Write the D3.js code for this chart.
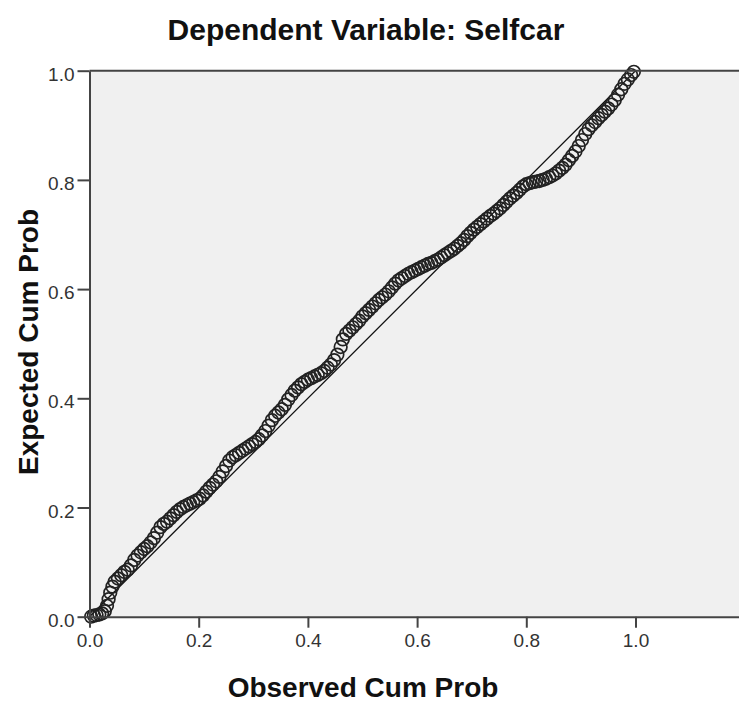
<!DOCTYPE html>
<html>
<head>
<meta charset="utf-8">
<script src="https://cdn.jsdelivr.net/npm/d3@7"></script>
<style>
  body { margin: 0; background: #fff; }
  svg { display: block; font-family: "Liberation Sans", Arial, sans-serif; }
</style>
</head>
<body>
<div id="chart"></div>
<script>
// P-P plot values
var titleText = "Dependent Variable: Selfcar";
var xLabel = "Observed Cum Prob";
var yLabel = "Expected Cum Prob";
var tickValues = [0, 0.2, 0.4, 0.6, 0.8, 1.0];

var obsProb = [0.003,0.008,0.013,0.018,0.023,0.028,0.032,0.035,0.038,0.042,0.046,0.052,0.058,0.064,0.070,0.076,0.082,0.088,0.094,0.100,
  0.106,0.112,0.118,0.124,0.130,0.136,0.142,0.148,0.154,0.160,0.166,0.172,0.178,0.184,0.190,0.196,0.202,0.208,0.214,0.220,
  0.226,0.232,0.238,0.244,0.250,0.256,0.262,0.268,0.274,0.280,0.286,0.292,0.298,0.304,0.310,0.316,0.322,0.328,0.334,0.340,
  0.346,0.352,0.358,0.364,0.370,0.376,0.382,0.388,0.394,0.400,0.406,0.412,0.418,0.424,0.430,0.436,0.442,0.448,0.454,0.460,
  0.464,0.470,0.476,0.482,0.488,0.494,0.500,0.506,0.512,0.518,0.524,0.530,0.536,0.542,0.548,0.554,0.560,0.566,0.572,0.578,
  0.584,0.590,0.596,0.602,0.608,0.614,0.620,0.626,0.632,0.638,0.644,0.650,0.656,0.662,0.668,0.674,0.680,0.686,0.692,0.698,
  0.704,0.710,0.716,0.722,0.728,0.734,0.740,0.746,0.752,0.758,0.764,0.770,0.776,0.782,0.788,0.794,0.800,0.806,0.812,0.818,
  0.824,0.830,0.836,0.842,0.848,0.854,0.860,0.866,0.872,0.878,0.884,0.890,0.896,0.902,0.908,0.914,0.920,0.926,0.932,0.938,
  0.944,0.950,0.956,0.962,0.968,0.974,0.980,0.986,0.992,0.997];

var expProb = [0.000,0.002,0.003,0.004,0.006,0.010,0.020,0.032,0.044,0.055,0.064,0.070,0.076,0.082,0.086,0.094,0.104,0.112,0.118,0.124,
  0.129,0.136,0.144,0.154,0.164,0.170,0.174,0.180,0.186,0.192,0.197,0.201,0.204,0.207,0.210,0.213,0.216,0.222,0.229,0.236,
  0.242,0.248,0.256,0.266,0.276,0.286,0.292,0.296,0.300,0.304,0.308,0.312,0.316,0.320,0.325,0.332,0.340,0.350,0.360,0.368,
  0.374,0.380,0.388,0.398,0.406,0.414,0.420,0.426,0.430,0.434,0.437,0.440,0.443,0.446,0.450,0.456,0.462,0.470,0.480,0.494,
  0.508,0.518,0.524,0.530,0.536,0.542,0.550,0.556,0.562,0.568,0.574,0.580,0.585,0.590,0.596,0.603,0.610,0.616,0.620,0.624,
  0.628,0.631,0.634,0.637,0.640,0.643,0.646,0.648,0.651,0.654,0.658,0.662,0.666,0.670,0.674,0.679,0.684,0.690,0.697,0.703,
  0.709,0.714,0.719,0.724,0.729,0.734,0.738,0.743,0.748,0.754,0.760,0.766,0.771,0.776,0.782,0.788,0.792,0.794,0.796,0.797,
  0.798,0.800,0.802,0.805,0.808,0.812,0.817,0.822,0.828,0.836,0.844,0.852,0.862,0.873,0.884,0.893,0.900,0.906,0.913,0.919,
  0.925,0.931,0.938,0.946,0.956,0.966,0.976,0.984,0.992,0.998];

var diagLine = [0, 1];

(function(){
    var width = 739, height = 704;
    var mLeft = 89.5, mTop = 70.7, mRight = 739, mBottom = 616.7;

    var svg = d3.select("#chart").append("svg")
        .attr("width", width)
        .attr("height", height);

    // plot area is 546px per unit, x runs past 1.0 to the right edge
    var x = d3.scaleLinear().domain([0, (mRight - mLeft) / 546]).range([mLeft, mRight]);
    var y = d3.scaleLinear().domain([0, 1]).range([mBottom, mTop]);

    // background
    svg.append("rect")
        .attr("x", mLeft).attr("y", mTop)
        .attr("width", mRight - mLeft).attr("height", mBottom - mTop)
        .attr("fill", "#f0f0f0");

    // reference line
    svg.append("line")
        .attr("x1", x(diagLine[0])).attr("y1", y(diagLine[0]))
        .attr("x2", x(diagLine[1])).attr("y2", y(diagLine[1]))
        .attr("stroke", "#111")
        .attr("stroke-width", 1.3);

    // points
    var pts = obsProb.map((d, i) => ({obs: d, exp: expProb[i]}));
    svg.append("g").selectAll("circle")
        .data(pts)
        .enter()
        .append("circle")
        .attr("cx", d => x(d.obs))
        .attr("cy", d => y(d.exp))
        .attr("r", 6.3)
        .attr("fill", "none")
        .attr("stroke", "#222")
        .attr("stroke-width", 1.7);

    // top border
    svg.append("line")
        .attr("x1", mLeft).attr("x2", mRight)
        .attr("y1", mTop).attr("y2", mTop)
        .attr("stroke", "#444").attr("stroke-width", 2);

    var fmt = d3.format(".1f");

    var xAxis = svg.append("g")
        .attr("transform", "translate(0," + mBottom + ")")
        .call(d3.axisBottom(x).tickValues(tickValues).tickFormat(fmt).tickSize(11).tickSizeOuter(0).tickPadding(6));

    var yAxis = svg.append("g")
        .attr("transform", "translate(" + mLeft + ",0)")
        .call(d3.axisLeft(y).tickValues(tickValues).tickFormat(fmt).tickSize(12).tickSizeOuter(0).tickPadding(3));

    [xAxis, yAxis].forEach(function(g){
        g.attr("font-size", null).attr("font-family", null);
        g.select(".domain").attr("stroke", "#444").attr("stroke-width", 2);
        g.selectAll(".tick line").attr("stroke", "#444").attr("stroke-width", 2);
        g.selectAll(".tick text")
            .attr("fill", "#333")
            .style("font-size", "19px");
    });
    yAxis.selectAll(".tick text").attr("dy", "0.5em");

    // titles
    svg.append("text")
        .attr("x", 366).attr("y", 40)
        .attr("text-anchor", "middle")
        .style("font-size", "30px")
        .style("font-weight", "bold")
        .attr("fill", "#111")
        .text(titleText);

    svg.append("text")
        .attr("x", 363).attr("y", 697)
        .attr("text-anchor", "middle")
        .style("font-size", "28px")
        .style("font-weight", "bold")
        .attr("fill", "#111")
        .text(xLabel);

    svg.append("text")
        .attr("transform", "translate(38,342) rotate(-90)")
        .attr("text-anchor", "middle")
        .style("font-size", "28px")
        .style("font-weight", "bold")
        .attr("fill", "#111")
        .text(yLabel);
})();
</script>
</body>
</html>
